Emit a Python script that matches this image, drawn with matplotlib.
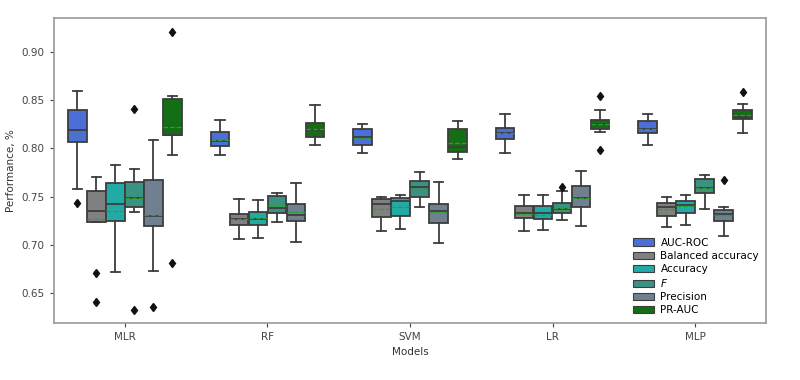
import matplotlib
matplotlib.use("Agg")
import matplotlib.pyplot as plt
from matplotlib.patches import Patch

models = ["MLR", "RF", "SVM", "LR", "MLP"]
metrics = ["AUC-ROC", "Balanced accuracy", "Accuracy", "$F$", "Precision", "PR-AUC"]
colors = ["#4b6fd6", "#808080", "#22aba6", "#3a9282", "#708090", "#146f14"]

# rows: metrics, columns: models
medians = [
    [0.8186, 0.8072, 0.8120, 0.8162, 0.8197],
    [0.7348, 0.7265, 0.7420, 0.7333, 0.7396],
    [0.7427, 0.7271, 0.7455, 0.7330, 0.7410],
    [0.7486, 0.7379, 0.7596, 0.7375, 0.7586],
    [0.7302, 0.7310, 0.7348, 0.7489, 0.7317],
    [0.8140, 0.8186, 0.8017, 0.8251, 0.8321],
]
q1 = [
    [0.8068, 0.8024, 0.8034, 0.8093, 0.8155],
    [0.7240, 0.7206, 0.7286, 0.7279, 0.7302],
    [0.7250, 0.7209, 0.7302, 0.7272, 0.7327],
    [0.7389, 0.7333, 0.7496, 0.7327, 0.7537],
    [0.7199, 0.7244, 0.7224, 0.7389, 0.7244],
    [0.8138, 0.8114, 0.7959, 0.8203, 0.8303],
]
q3 = [
    [0.8397, 0.8169, 0.8197, 0.8210, 0.8286],
    [0.7561, 0.7323, 0.7479, 0.7406, 0.7431],
    [0.7640, 0.7337, 0.7489, 0.7403, 0.7458],
    [0.7648, 0.7503, 0.7665, 0.7431, 0.7682],
    [0.7669, 0.7420, 0.7423, 0.7613, 0.7358],
    [0.8507, 0.8265, 0.8197, 0.8290, 0.8400],
]
whislo = [
    [0.7579, 0.7927, 0.7948, 0.7951, 0.8037],
    [0.7237, 0.7058, 0.7147, 0.7147, 0.7188],
    [0.6723, 0.7071, 0.7168, 0.7154, 0.7203],
    [0.7344, 0.7237, 0.7389, 0.7258, 0.7375],
    [0.6730, 0.7030, 0.7023, 0.7193, 0.7089],
    [0.7927, 0.8037, 0.7890, 0.8166, 0.8158],
]
whishi = [
    [0.8596, 0.8293, 0.8248, 0.8355, 0.8355],
    [0.7703, 0.7472, 0.7496, 0.7517, 0.7493],
    [0.7830, 0.7465, 0.7517, 0.7517, 0.7517],
    [0.7783, 0.7537, 0.7751, 0.7555, 0.7727],
    [0.8086, 0.7641, 0.7651, 0.7768, 0.7389],
    [0.8538, 0.8448, 0.8283, 0.8393, 0.8455],
]
means = [
    [0.8138, 0.8083, 0.8103, 0.8155, 0.8197],
    [0.7271, 0.7265, 0.7375, 0.7317, 0.7369],
    [0.7354, 0.7275, 0.7389, 0.7310, 0.7400],
    [0.7480, 0.7403, 0.7582, 0.7385, 0.7586],
    [0.7310, 0.7344, 0.7341, 0.7489, 0.7310],
    [0.8220, 0.8200, 0.8058, 0.8251, 0.8342],
]
fliers = [
    [[0.7431], [], [], [], []],
    [[0.6712, 0.6409], [], [], [], []],
    [[], [], [], [], []],
    [[0.8407, 0.6329], [], [], [0.7596], []],
    [[0.6357], [], [], [], [0.7672]],
    [[0.920, 0.681], [], [], [0.8545, 0.7982], [0.8586]],
]

edge = "#3d3d3d"
fig = plt.figure(figsize=(8, 3.8), dpi=100)
ax = fig.add_axes([0.067, 0.151, 0.891, 0.801])

n = len(metrics)
step = 0.8 / n
for j, metric in enumerate(metrics):
    stats = []
    pos = []
    for i in range(len(models)):
        stats.append(dict(med=medians[j][i], q1=q1[j][i], q3=q3[j][i],
                          whislo=whislo[j][i], whishi=whishi[j][i],
                          mean=means[j][i], fliers=fliers[j][i]))
        pos.append(i - 0.4 + step * (j + 0.5))
    ax.bxp(stats, positions=pos, widths=step * 0.98, patch_artist=True,
           showmeans=True, meanline=True,
           boxprops=dict(facecolor=colors[j], edgecolor=edge, linewidth=1.3),
           medianprops=dict(color=edge, linewidth=1.3),
           meanprops=dict(color="#2ca02c", linestyle="--", linewidth=0.9),
           whiskerprops=dict(color=edge, linewidth=1.3),
           capprops=dict(color=edge, linewidth=1.3),
           flierprops=dict(marker="d", markerfacecolor="#111111",
                           markeredgecolor="#111111", markersize=4.5))

ax.set_xlim(-0.5, len(models) - 0.5)
ax.set_ylim(0.6195, 0.9346)
ax.set_xticks(range(len(models)))
ax.set_xticklabels(models)
ax.set_yticks([0.65, 0.70, 0.75, 0.80, 0.85, 0.90])
ax.set_yticklabels([f"{v:.2f}" for v in [0.65, 0.70, 0.75, 0.80, 0.85, 0.90]])
ax.tick_params(labelsize=7.5, colors="#444444", length=3, width=0.8)
for s in ax.spines.values():
    s.set_color("#999999")
    s.set_linewidth(1.2)
ax.set_xlabel("Models", fontsize=7.5, color="#333333")
ax.set_ylabel("Performance, %", fontsize=7.5, color="#333333")

handles = [Patch(facecolor=c, edgecolor=edge, linewidth=0.8) for c in colors]
ax.legend(handles, metrics, loc="lower right", frameon=False, fontsize=7.5,
          handlelength=2.0, handleheight=0.7, labelspacing=0.3,
          borderaxespad=0.3, handletextpad=0.6)

fig.savefig("out.png", dpi=100)
